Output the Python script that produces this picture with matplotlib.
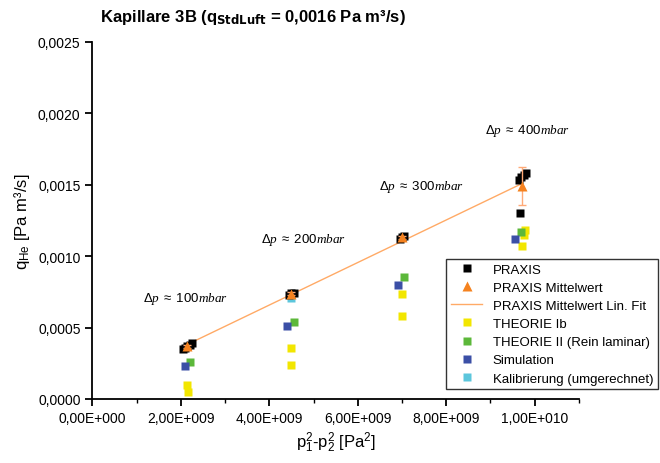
import numpy as np
import matplotlib
matplotlib.use("Agg")
import matplotlib.pyplot as plt
from matplotlib.ticker import FuncFormatter, MultipleLocator

plt.rcParams['font.family'] = ['Liberation Sans', 'DejaVu Sans']
plt.rcParams['mathtext.fontset'] = 'custom'
plt.rcParams['mathtext.rm'] = 'Liberation Sans'
plt.rcParams['mathtext.it'] = 'Liberation Serif:italic'

# ---- Daten ----
praxis_x = [2.05e9, 2.10e9, 2.15e9, 2.20e9, 2.25e9,
            4.45e9, 4.50e9, 4.55e9,
            6.95e9, 7.00e9, 7.05e9,
            9.65e9, 9.70e9, 9.75e9, 9.80e9, 9.67e9]
praxis_y = [0.00035, 0.00036, 0.00037, 0.00038, 0.00039,
            0.00073, 0.00074, 0.00074,
            0.00112, 0.00113, 0.00114,
            0.00153, 0.00155, 0.00157, 0.00158, 0.00130]

mittel_x = [2.15e9, 4.50e9, 7.00e9, 9.72e9]
mittel_y = [0.00037, 0.000735, 0.00113, 0.00149]
mittel_err = [0.00001, 0.00001, 0.00001, 0.00013]

theorie1_x = [2.15e9, 2.17e9, 4.50e9, 4.50e9, 7.00e9, 7.00e9, 9.72e9, 9.78e9, 9.75e9]
theorie1_y = [0.00010, 0.00005, 0.00036, 0.00024, 0.000735, 0.00058, 0.00107, 0.00118, 0.00115]

theorie2_x = [2.20e9, 4.55e9, 7.05e9, 9.70e9]
theorie2_y = [0.00026, 0.00054, 0.00085, 0.00117]

sim_x = [2.10e9, 4.40e9, 6.90e9, 9.55e9]
sim_y = [0.00023, 0.00051, 0.00080, 0.00112]

kalib_x = [4.50e9]
kalib_y = [0.00071]

dp_labels = ['100', '200', '300', '400']
dp_x = [2.1e9, 4.78e9, 7.45e9, 9.85e9]
dp_y = [0.00071, 0.00112, 0.00149, 0.00188]

# ---- Plot ----
fig = plt.figure(figsize=(6.6, 4.64), dpi=100)
ax = fig.add_axes([0.140, 0.138, 0.737, 0.770])

# linearer Fit der Mittelwerte
coef = np.polyfit(mittel_x, mittel_y, 1)
fit_x = np.array([mittel_x[0] - 0.05e9, mittel_x[-1]])
ax.plot(fit_x, np.polyval(coef, fit_x), color='#FFAA66', lw=1.0, zorder=2,
        label='PRAXIS Mittelwert Lin. Fit')

ms = 6
ax.plot(theorie1_x, theorie1_y, 's', color='#F2E600', ms=ms, mec='none', zorder=3,
        label='THEORIE Ib')
ax.plot(theorie2_x, theorie2_y, 's', color='#5CB83A', ms=ms, mec='none', zorder=3,
        label='THEORIE II (Rein laminar)')
ax.plot(sim_x, sim_y, 's', color='#3B4FA6', ms=ms, mec='none', zorder=4,
        label='Simulation')
ax.plot(kalib_x, kalib_y, 's', color='#5CC6DC', ms=ms, mec='none', zorder=3,
        label='Kalibrierung (umgerechnet)')
ax.plot(praxis_x, praxis_y, 's', color='black', ms=ms, mec='none', zorder=5,
        label='PRAXIS')
ax.errorbar(mittel_x, mittel_y, yerr=mittel_err, fmt='none', ecolor='#FFAA77',
            elinewidth=1, capsize=3, zorder=6)
ax.plot(mittel_x, mittel_y, '^', color='#F5821F', ms=7, mec='none', zorder=6,
        label='PRAXIS Mittelwert')

for lab, x, y in zip(dp_labels, dp_x, dp_y):
    ax.text(x, y, r'$\Delta p\ \approx\ %s\mathit{mbar}$' % lab, ha='center',
            va='center', fontsize=9.5)

ax.set_xlim(0, 1.1e10)
ax.set_ylim(0, 0.0025)
ax.xaxis.set_major_locator(MultipleLocator(2e9))
ax.xaxis.set_minor_locator(MultipleLocator(1e9))
ax.yaxis.set_major_locator(MultipleLocator(0.0005))

def fmt_x(v, pos):
    if v == 0:
        return '0,00E+000'
    e = int(np.floor(np.log10(abs(v))))
    m = v / 10**e
    return ('%.2f' % m).replace('.', ',') + 'E+%03d' % e

ax.xaxis.set_major_formatter(FuncFormatter(fmt_x))
ax.yaxis.set_major_formatter(FuncFormatter(lambda v, p: ('%.4f' % v).replace('.', ',')))

for s in ['top', 'right']:
    ax.spines[s].set_visible(False)
ax.spines['left'].set_linewidth(1.3)
ax.spines['bottom'].set_linewidth(1.3)
ax.tick_params(which='major', direction='out', length=5, width=1.3, labelsize=10)
ax.tick_params(which='minor', direction='out', length=3, width=1.0)

ax.set_xlabel(r'p$_1^2$-p$_2^2$ [Pa$^2$]', fontsize=12)
ax.set_ylabel(r'q$_{\mathregular{He}}$ [Pa m³/s]', fontsize=12)
fig.text(0.383, 0.962, r'Kapillare 3B (q$_{\mathbf{StdLuft}}$ = 0,0016 Pa m³/s)',
         ha='center', va='center', fontsize=12, fontweight='bold')

handles, labels = ax.get_legend_handles_labels()
order = ['PRAXIS', 'PRAXIS Mittelwert', 'PRAXIS Mittelwert Lin. Fit', 'THEORIE Ib',
         'THEORIE II (Rein laminar)', 'Simulation', 'Kalibrierung (umgerechnet)']
hmap = dict(zip(labels, handles))
leg = fig.legend([hmap[o] for o in order], order, loc='lower right',
                 bbox_to_anchor=(0.997, 0.159), fontsize=9.5, frameon=True,
                 fancybox=False, edgecolor='black', handlelength=2.4,
                 borderpad=0.35, labelspacing=0.45, numpoints=1,
                 borderaxespad=0)
leg.get_frame().set_linewidth(1.0)

fig.savefig('out.png', dpi=100)
